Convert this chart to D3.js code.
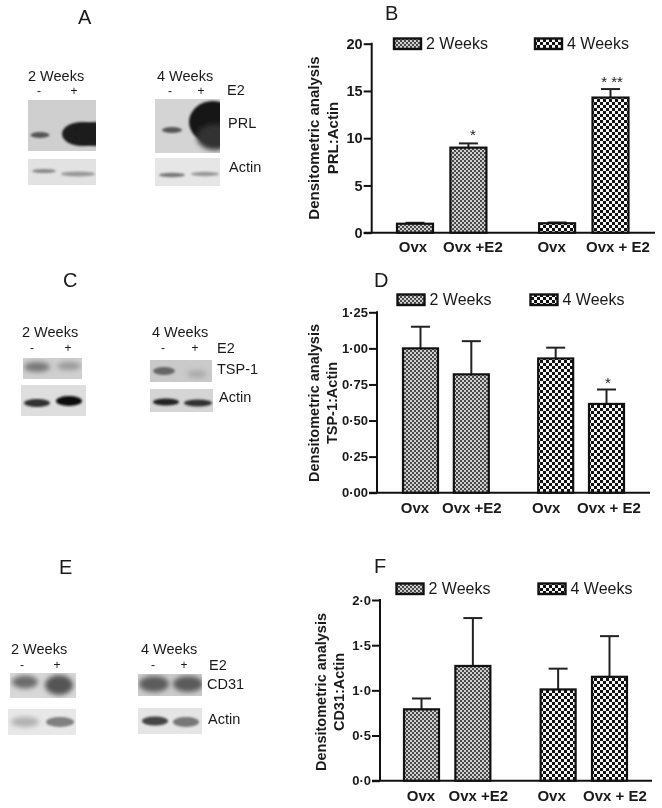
<!DOCTYPE html>
<html><head><meta charset="utf-8">
<script src="https://cdn.jsdelivr.net/npm/d3@7/dist/d3.min.js"></script>
<style>html,body{margin:0;background:#fff}svg{display:block;filter:blur(0.35px)}text{font-family:"Liberation Sans",Arial,sans-serif;fill:#1a1a1a}</style>
</head><body><svg id="c" width="662" height="808"></svg>
<script>
const categories=["Ovx","Ovx +E2","Ovx","Ovx + E2"];
const seriesNames=["2 Weeks","4 Weeks"];
const prlValues=[0.95,9.0,1.0,14.3];
const prlTops=[1.05,9.45,1.08,15.2];
const tspValues=[1.0,0.82,0.93,0.615];
const tspTops=[1.15,1.05,1.005,0.715];
const cd31Values=[0.79,1.27,1.01,1.15];
const cd31Tops=[0.91,1.80,1.24,1.60];
const prlTicks=[0,5,10,15,20];
const tspTicks=[0,0.25,0.5,0.75,1,1.25];
const cd31Ticks=[0,0.5,1,1.5,2];
const slots=[0,1,2.66,3.66];

const svg=d3.select("#c");
const defs=svg.append("defs");
function pat(id,s,bg,fg){
  const p=defs.append("pattern").attr("id",id).attr("width",s*2).attr("height",s*2).attr("patternUnits","userSpaceOnUse");
  p.append("rect").attr("width",s*2).attr("height",s*2).attr("fill",bg);
  p.append("rect").attr("width",s).attr("height",s).attr("fill",fg);
  p.append("rect").attr("x",s).attr("y",s).attr("width",s).attr("height",s).attr("fill",fg);
}
pat("p2",2,"#cfcfcf","#4a4a4a");
pat("p4",3,"#f6f6f6","#111");
[1.2,2.4,4,7].forEach(b=>defs.append("filter").attr("id","b"+String(b).replace(".","_")).attr("x","-40%").attr("y","-80%").attr("width","180%").attr("height","260%")
  .append("feGaussianBlur").attr("stdDeviation",b));

// Bar panels
function barPanel(o){
  const g=svg.append("g");
  const y=d3.scaleLinear().domain(o.domain).range([o.y0,o.yTop]);
  const x=d3.scaleLinear().domain([0,3.66]).range(o.xr);
  const w=o.bw;
  const ax=d3.axisLeft(y).tickValues(o.ticks).tickSize(8).tickPadding(1).tickFormat(d=>d3.format(o.fmt)(d).replace(".","·"));
  const a=g.append("g").attr("transform",`translate(${o.ax},0)`).call(ax);
  a.selectAll("path,line").attr("stroke","#111").attr("stroke-width",2);
  a.select("path").attr("d",`M0,${o.y0}V${o.yTop-1}`);
  a.selectAll("text").attr("font-size",o.tickSize).attr("font-weight","bold").style("font-family",'"Liberation Sans",Arial,sans-serif').attr("fill","#1a1a1a");
  g.append("line").attr("x1",o.ax-8).attr("x2",o.xEnd).attr("y1",o.y0).attr("y2",o.y0).attr("stroke","#111").attr("stroke-width",2);
  // error bars
  const eb=g.selectAll(".e").data(o.vals).enter().append("g");
  eb.append("line").attr("x1",(d,i)=>x(slots[i])).attr("x2",(d,i)=>x(slots[i])).attr("y1",d=>y(d)).attr("y2",(d,i)=>y(o.tops[i])).attr("stroke","#222").attr("stroke-width",2);
  eb.append("line").attr("x1",(d,i)=>x(slots[i])-9.5).attr("x2",(d,i)=>x(slots[i])+9.5).attr("y1",(d,i)=>y(o.tops[i])).attr("y2",(d,i)=>y(o.tops[i])).attr("stroke","#222").attr("stroke-width",2);
  g.selectAll(".b").data(o.vals).enter().append("rect")
    .attr("x",(d,i)=>x(slots[i])-w/2).attr("width",w)
    .attr("y",d=>y(d)).attr("height",d=>o.y0-y(d))
    .attr("fill",(d,i)=>i<2?"url(#p2)":"url(#p4)").attr("stroke","#111").attr("stroke-width",2.2);
  // category labels
  g.selectAll(".l").data(categories).enter().append("text")
    .attr("x",(d,i)=>x(slots[i])+o.lab[i]).attr("y",o.labY).attr("text-anchor","middle")
    .attr("font-size",15).attr("font-weight","bold").text(d=>d);
  // y titles
  o.title.forEach((t,i)=>g.append("text").attr("transform",`translate(${o.titleX[i]},${o.titleY}) rotate(-90)`)
    .attr("text-anchor","middle").attr("font-size",o.titleSize).attr("font-weight","bold").attr("stroke","none").text(t));
  // legend
  seriesNames.forEach((n,i)=>{
    g.append("rect").attr("x",o.leg[i]).attr("y",o.legY).attr("width",27).attr("height",10.5)
      .attr("fill",i?"url(#p4)":"url(#p2)").attr("stroke","#111").attr("stroke-width",2.4);
    g.append("text").attr("x",o.leg[i]+32).attr("y",o.legY+10.5).attr("font-size",16).attr("fill","#333").text(n);
  });
  (o.stars||[]).forEach(s=>g.append("text").attr("x",x(slots[s.i])+s.dx).attr("y",y(o.tops[s.i])-s.dy).attr("text-anchor","middle").attr("font-size",15).text(s.t));
  g.append("text").attr("x",o.letter[1]).attr("y",o.letter[2]).attr("font-size",20).attr("fill","#222").text(o.letter[0]);
}
barPanel({domain:[0,20],y0:232.7,yTop:43.7,xr:[415,610.5],bw:36,ax:371.7,xEnd:655,ticks:prlTicks,tickSize:14.5,fmt:"d",vals:prlValues,tops:prlTops,
  lab:[-2,4.5,-5.5,7.5],labY:252,title:["Densitometric analysis","PRL:Actin"],titleSize:15,titleX:[319,338],titleY:138,leg:[394,535],legY:38.5,
  stars:[{i:1,dx:4.5,dy:3,t:"*"},{i:3,dx:1.5,dy:2,t:"* **"}],letter:["B",385,20]});
barPanel({domain:[0,1.25],y0:492.7,yTop:312.3,xr:[420.5,606.5],bw:35,ax:377,xEnd:650,ticks:tspTicks,tickSize:13,fmt:".2f",vals:tspValues,tops:tspTops,
  lab:[-5.5,0.5,-9.5,2.5],labY:513,title:["Densitometric analysis","TSP-1:Actin"],titleSize:14.5,titleX:[319,337],titleY:403,leg:[397.5,530.5],legY:294.5,
  stars:[{i:3,dx:1.5,dy:2,t:"*"}],letter:["D",374,287]});
barPanel({domain:[0,2],y0:780.7,yTop:600,xr:[421.5,609.5],bw:35,ax:380,xEnd:652,ticks:cd31Ticks,tickSize:13,fmt:".1f",vals:cd31Values,tops:cd31Tops,
  lab:[-0.5,5.5,-6.5,5.5],labY:801,title:["Densitometric analysis","CD31:Actin"],titleSize:14.5,titleX:[326,344],titleY:692,leg:[396.5,538.5],legY:583.5,
  letter:["F",374,573]});

// Blots
const blots=svg.append("g");
function blot(x,y,w,h,bg,bands){
  blots.append("rect").attr("x",x).attr("y",y).attr("width",w).attr("height",h).attr("fill",bg);
  const cid="c"+Math.round(x)+"_"+Math.round(y);
  defs.append("clipPath").attr("id",cid).append("rect").attr("x",x).attr("y",y).attr("width",w).attr("height",h);
  const g=blots.append("g").attr("clip-path",`url(#${cid})`);
  bands.forEach(b=>g.append("ellipse").attr("cx",b[0]).attr("cy",b[1]).attr("rx",b[2]).attr("ry",b[3]).attr("fill",b[4]).attr("filter",`url(#b${String(b[5]||1.2).replace(".","_")})`));
}
blot(28,100,68,51,"#cfcfcf",[[40,135,9.5,3,"#555"],[82,134,20,12,"#1c1c1c",1.2],[96,134,20,12,"#1c1c1c",1.2]]);
blot(28,159,68,26,"#e2e2e2",[[44,171,12,2,"#888"],[78,174,17,2.4,"#999"]]);
blot(155,99,65,54,"#d4d4d4",[[172,130,10,3,"#555"],[213,122,24,21,"#161616",1.2],[215,137,18,13,"#333",2.4]]);
blot(155,158,65,28,"#e6e6e6",[[172,175,13,2.2,"#777"],[205,174,14,2.2,"#999"]]);
blot(23,358,59,21,"#cfcfcf",[[37,367,13,5,"#777",2.4],[69,366,12,4,"#999",2.4]]);
blot(21,385,65,31,"#dedede",[[37,403,13,4,"#333"],[69,401,13,5,"#111"]]);
blot(150,360,62,22,"#cacaca",[[164,371,11,4,"#666"],[197,374,10,4,"#aaa",2.4]]);
blot(150,389,63,23,"#d5d5d5",[[166,402,13,3.5,"#222"],[198,403,14,3.5,"#333"]]);
blot(10,673,66,25,"#d8d8d8",[[25,682,13,6.5,"#6a6a6a",2.4],[59,685,14,10,"#555",2.4]]);
blot(8,709,68,26,"#e8e8e8",[[25,722,14,5,"#b0b0b0",2.4],[60,722,14,5,"#808080",1.2]]);
blot(138,674,64,22,"#cccccc",[[154,684,15,8,"#5c5c5c",2.4],[188,684,15,8,"#5a5a5a",2.4]]);
blot(138,708,64,26,"#e5e5e5",[[155,721,13,4.5,"#444",1.2],[186,722,13,5,"#777",1.2]]);

function txt(t,x,y,s,a){svg.append("text").attr("x",x).attr("y",y).attr("font-size",s).attr("text-anchor",a||"start").attr("fill","#222").text(t);}
[["A",78,24],["C",63,287],["E",59,574]].forEach(d=>txt(d[0],d[1],d[2],20));
const wk=seriesNames, L=14.5, S=12;
txt(wk[0],28,81,L);txt(wk[1],157,81,L);txt("-",39,95,S,"middle");txt("+",74,95,S,"middle");txt("-",170,95,S,"middle");txt("+",201,95,S,"middle");
txt("E2",227,95,L);txt("PRL",228,128,L);txt("Actin",229,172,L);
txt(wk[0],22,337,L);txt(wk[1],152,337,L);txt("-",32,352,S,"middle");txt("+",68,352,S,"middle");txt("-",163,352,S,"middle");txt("+",195,352,S,"middle");
txt("E2",217,353,L);txt("TSP-1",217,374,L);txt("Actin",219,402,L);
txt(wk[0],11,654,L);txt(wk[1],141,654,L);txt("-",22,669,S,"middle");txt("+",57,669,S,"middle");txt("-",153,669,S,"middle");txt("+",184,669,S,"middle");
txt("E2",209,670,L);txt("CD31",207,689,L);txt("Actin",208,724,L);
</script></body></html>
